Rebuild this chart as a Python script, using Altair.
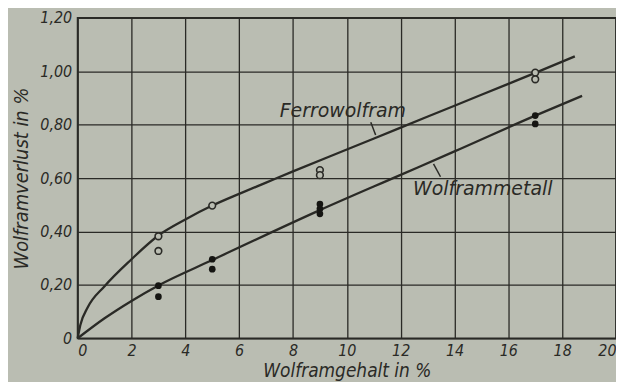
import altair as alt
import pandas as pd

# ---- data ----
ferro_curve_x = [0, 0.1, 0.37, 1.0, 2.0, 3.0, 4.0, 5.0, 6.0, 7.0, 8.0, 10.0, 12.0, 14.0, 16.0, 17.0, 18.47]
ferro_curve_y = [0, 0.05, 0.115, 0.195, 0.296, 0.385, 0.445, 0.497, 0.541, 0.583, 0.625, 0.707, 0.789, 0.871, 0.953, 0.994, 1.056]

metall_curve_x = [0, 1.0, 2.0, 3.0, 5.0, 9.0, 12.0, 14.0, 17.0, 18.74]
metall_curve_y = [0, 0.075, 0.14, 0.198, 0.293, 0.48, 0.612, 0.70, 0.834, 0.908]

ferro_pts_x = [3, 3, 5, 9, 9, 17, 17]
ferro_pts_y = [0.382, 0.327, 0.497, 0.630, 0.611, 0.995, 0.970]

metall_pts_x = [3, 3, 5, 5, 9, 9, 9, 17, 17]
metall_pts_y = [0.197, 0.156, 0.296, 0.259, 0.503, 0.485, 0.466, 0.834, 0.803]

x_ticks = [0, 2, 4, 6, 8, 10, 12, 14, 16, 18, 20]
y_ticks = [0, 0.2, 0.4, 0.6, 0.8, 1.0, 1.2]

label_text = ["Ferrowolfram", "Wolframmetall"]
label_x = [9.85, 15.05]
label_y = [0.827, 0.538]
leader_x = [10.89, 13.22]
leader_y = [0.809, 0.653]
leader_x2 = [11.07, 13.48]
leader_y2 = [0.761, 0.605]

BG = "#babdb2"
INK = "#2a2a26"
FONT = "DejaVu Sans Condensed, Liberation Sans Narrow, DejaVu Sans, sans-serif"
FONT_WIDE = "DejaVu Sans, sans-serif"

curves = pd.DataFrame(
    {"x": ferro_curve_x + metall_curve_x,
     "y": ferro_curve_y + metall_curve_y,
     "s": ["Ferrowolfram"] * len(ferro_curve_x) + ["Wolframmetall"] * len(metall_curve_x),
     "o": list(range(len(ferro_curve_x))) + list(range(len(metall_curve_x)))}
)
fpts = pd.DataFrame({"x": ferro_pts_x, "y": ferro_pts_y})
mpts = pd.DataFrame({"x": metall_pts_x, "y": metall_pts_y})
labels = pd.DataFrame({"t": label_text, "x": label_x, "y": label_y})
leaders = pd.DataFrame({"x": leader_x, "y": leader_y, "x2": leader_x2, "y2": leader_y2})

xs = alt.Scale(domain=[0, 20], nice=False, zero=False)
ys = alt.Scale(domain=[0, 1.2], nice=False, zero=False)

x_axis = alt.Axis(
    values=x_ticks, title="Wolframgehalt in %", grid=True, ticks=False, domain=False,
    labelPadding=4, titlePadding=3, labelFontSize=16, titleFontSize=19,
)
y_axis = alt.Axis(
    values=y_ticks, title="Wolframverlust in %", grid=True, ticks=False, domain=False,
    labelPadding=6, titlePadding=8, labelFontSize=16, titleFontSize=20,
    labelExpr="datum.value == 0 ? '0' : replace(format(datum.value, '.2f'), '.', ',')",
)

lines = alt.Chart(curves).mark_line(
    interpolate="monotone", color=INK, strokeWidth=2.3
).encode(
    x=alt.X("x:Q", scale=xs, axis=x_axis),
    y=alt.Y("y:Q", scale=ys, axis=y_axis),
    detail="s:N",
    order="o:Q",
)

open_pts = alt.Chart(fpts).mark_point(
    shape="circle", filled=False, size=45, strokeWidth=1.6, color=INK, fill=BG, fillOpacity=1
).encode(x=alt.X("x:Q", scale=xs), y=alt.Y("y:Q", scale=ys))

filled_pts = alt.Chart(mpts).mark_point(
    shape="circle", filled=True, size=45, color="#151512", opacity=1
).encode(x=alt.X("x:Q", scale=xs), y=alt.Y("y:Q", scale=ys))

text = alt.Chart(labels).mark_text(
    font=FONT_WIDE, fontSize=19, fontStyle="italic", color=INK, align="center", baseline="alphabetic"
).encode(x=alt.X("x:Q", scale=xs), y=alt.Y("y:Q", scale=ys), text="t:N")

leader = alt.Chart(leaders).mark_rule(color=INK, strokeWidth=1.5).encode(
    x=alt.X("x:Q", scale=xs), y=alt.Y("y:Q", scale=ys), x2="x2:Q", y2="y2:Q"
)

chart = alt.layer(lines, leader, open_pts, filled_pts, text).properties(
    width=541, height=322,
    background=BG,
    padding={"left": 70, "top": 9, "right": 0, "bottom": 43},
    autosize=alt.AutoSizeParams(type="none"),
).configure_view(
    stroke=INK, strokeWidth=1.8, fill=BG
).configure_axis(
    gridColor=INK, gridWidth=1.3, gridOpacity=1,
    labelColor=INK, titleColor=INK,
    labelFont=FONT, titleFont=FONT,
    labelFontStyle="italic", titleFontStyle="italic",
    titleFontWeight="normal",
)

chart.save("out.html", embed_options={"renderer": "svg", "actions": False})
